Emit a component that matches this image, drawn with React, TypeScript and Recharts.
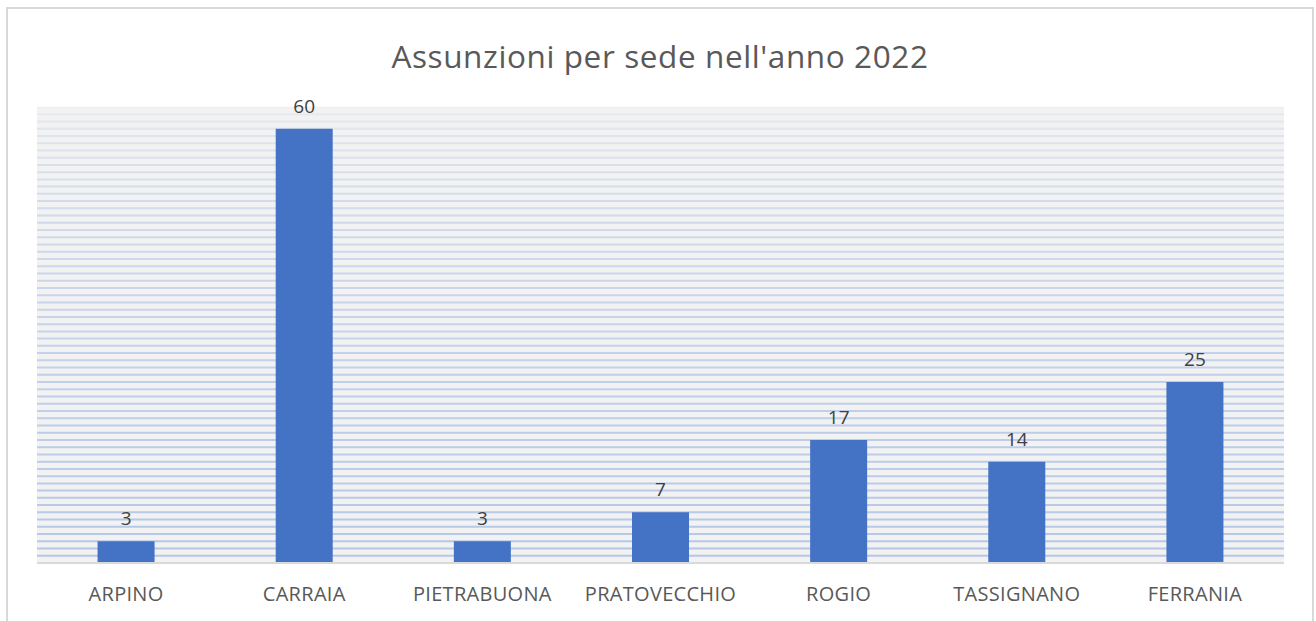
import { BarChart, Bar, XAxis, YAxis, CartesianGrid, LabelList } from 'recharts';

const sedi = ['ARPINO', 'CARRAIA', 'PIETRABUONA', 'PRATOVECCHIO', 'ROGIO', 'TASSIGNANO', 'FERRANIA'];
const assunzioni = [3, 60, 3, 7, 17, 14, 25];
const gridTicks = Array.from({ length: 64 }, (_, i) => i);

const data = sedi.map((name, i) => ({ name, value: assunzioni[i] }));

const FONT = '"Open Sans", "Noto Sans", sans-serif';
const PLOT_TOP = 98;
const PLOT_BOTTOM = 554;

// righe della griglia con sfumatura: chiare in alto, più blu in basso
function GridLine(props: any) {
  const { x1, x2, y1, y2 } = props;
  const t = Math.max(0, Math.min(1, (y1 - PLOT_TOP) / (PLOT_BOTTOM - PLOT_TOP)));
  return (
    <line
      x1={x1}
      x2={x2}
      y1={y1}
      y2={y2}
      stroke="#b4c7e7"
      strokeWidth={2}
      strokeOpacity={0.08 + 0.92 * Math.sqrt(t)}
    />
  );
}

export default function App() {
  return (
    <div
      style={{
        position: 'absolute',
        left: 6,
        top: 7,
        width: 1308,
        height: 624,
        border: '2px solid #d9d9d9',
        boxSizing: 'border-box',
        background: '#fff',
        fontFamily: FONT,
      }}
    >
      <div
        style={{
          position: 'absolute',
          top: 25,
          width: '100%',
          textAlign: 'center',
          fontSize: 31.5,
          color: '#595959',
          letterSpacing: 0.6,
        }}
      >
        Assunzioni per sede nell'anno 2022
      </div>
      <BarChart
        width={1304}
        height={620}
        data={data}
        margin={{ top: PLOT_TOP, right: 28, bottom: 26, left: 29 }}
        barCategoryGap="34%"
      >
        <CartesianGrid
          vertical={false}
          horizontal={(p: any) => <GridLine key={p.key} {...p} />}
          fill="#f2f2f2"
          syncWithTicks
        />
        <XAxis
          dataKey="name"
          height={40}
          tickLine={false}
          axisLine={{ stroke: '#d9d9d9', strokeWidth: 2 }}
          tick={{ fill: '#595959', fontSize: 20, fontFamily: FONT, letterSpacing: 0.3 }}
          tickMargin={18}
        />
        <YAxis hide domain={[0, 63]} ticks={gridTicks} interval={0} />
        <Bar dataKey="value" fill="#4472c4" isAnimationActive={false}>
          <LabelList dataKey="value" position="top" offset={16} fill="#404040" fontSize={19} fontFamily={FONT} />
        </Bar>
      </BarChart>
    </div>
  );
}
